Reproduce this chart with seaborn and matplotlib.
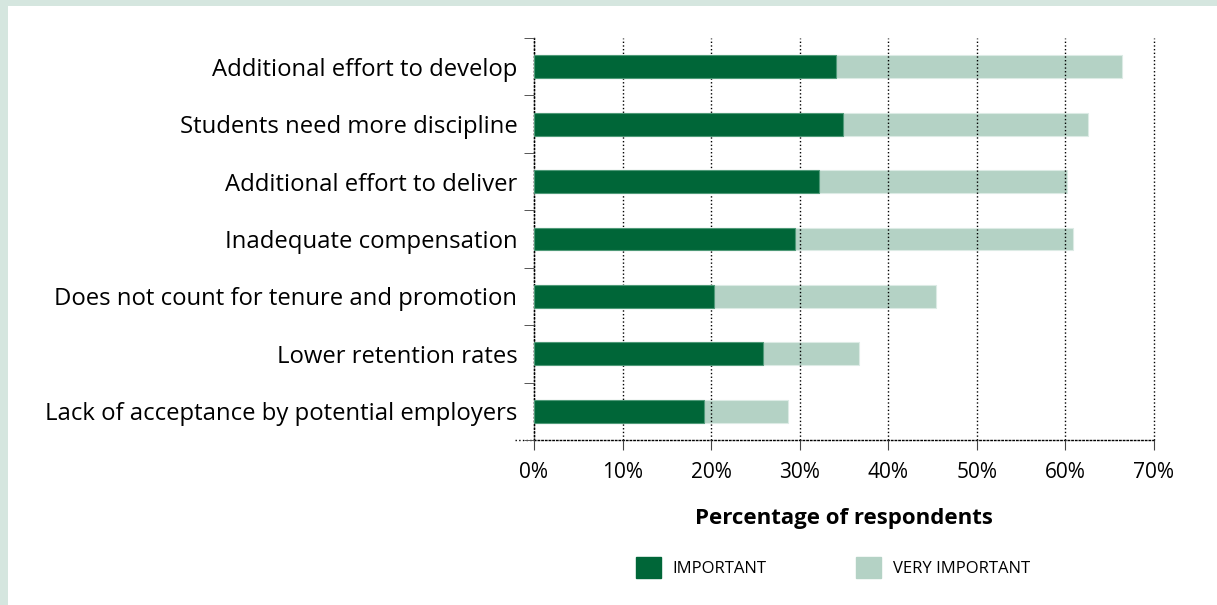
import matplotlib
matplotlib.use('Agg')
import matplotlib.pyplot as plt
import matplotlib.patches as mpatches
import seaborn as sns
import pandas as pd

categories = ['Additional effort to develop', 'Students need more discipline',
              'Additional effort to deliver', 'Inadequate compensation',
              'Does not count for tenure and promotion', 'Lower retention rates',
              'Lack of acceptance by potential employers']
important = [34.1, 34.9, 32.2, 29.5, 20.3, 25.8, 19.2]
very_important = [32.3, 27.7, 28.0, 31.3, 25.1, 10.9, 9.5]
xticks = [0, 10, 20, 30, 40, 50, 60, 70]

dark = '#006638'
light = '#b4d2c5'

df = pd.DataFrame({'cat': categories, 'imp': important, 'vimp': very_important})
df['total'] = df['imp'] + df['vimp']

sns.set_style('white')
plt.rcParams['font.family'] = ['Open Sans', 'DejaVu Sans']
plt.rcParams['text.color'] = 'black'
plt.rcParams['xtick.color'] = 'black'
plt.rcParams['ytick.color'] = 'black'
plt.rcParams['axes.labelcolor'] = 'black'

fig = plt.figure(figsize=(12.17, 6.05), dpi=100)
fig.patch.set_facecolor('#d5e6df')
# white panel, leaving a thin green border on top and left
panel = mpatches.Rectangle((8 / 1217, 0), 1, 1 - 6 / 605, transform=fig.transFigure,
                           facecolor='white', edgecolor='none', zorder=-10)
fig.add_artist(panel)
ax = fig.add_axes([534 / 1217, 1 - 440 / 605, 620 / 1217, 402 / 605])
ax.set_facecolor('none')
ax.set_zorder(5)

sns.barplot(data=df, x='total', y='cat', color=light, width=0.4, saturation=1,
            edgecolor='#dcebe5', linewidth=0.8, ax=ax, zorder=2)
sns.barplot(data=df, x='imp', y='cat', color=dark, width=0.4, saturation=1,
            edgecolor='#4f9a78', linewidth=0.8, ax=ax, zorder=3)

ax.set_xlim(0, 70)
ax.set_ylim(6.5, -0.5)
ax.set_xticks(xticks)
ax.set_xticklabels([f'{v}%' for v in xticks], fontsize=15)
ax.tick_params(axis='x', bottom=True, length=7, width=0.8, color='#444444', pad=9,
               direction='out')
ax.tick_params(axis='y', which='major', left=False, length=0, pad=12, labelsize=17.2)
ax.set_yticks([i - 0.5 for i in range(len(categories) + 1)], minor=True)
ax.tick_params(axis='y', which='minor', left=True, length=7, width=0.7, color='#555555',
               direction='out')
# bottom tick reaches further left, like the baseline in the original
ax.plot([-2.1, 0], [6.5, 6.5], linestyle=':', color='black', linewidth=1, clip_on=False)
ax.xaxis.grid(True, linestyle=':', color='black', linewidth=1)
ax.set_axisbelow(False)
for line in ax.get_xgridlines():
    line.set_zorder(4)
    line.set_clip_on(False)

for s in ['top', 'right']:
    ax.spines[s].set_visible(False)
for s in ['left', 'bottom']:
    ax.spines[s].set_linestyle(':')
    ax.spines[s].set_color('black')
    ax.spines[s].set_linewidth(1)

ax.set_ylabel('')
ax.set_xlabel('Percentage of respondents', fontsize=16, fontweight='bold', labelpad=18)

handles = [mpatches.Patch(color=dark, label='IMPORTANT'),
           mpatches.Patch(color=light, label='VERY IMPORTANT')]
fig.legend(handles=handles, loc='center left', bbox_to_anchor=(0.510, 0.062), ncol=2,
           frameon=False, handlelength=1.5, handleheight=1.55, handletextpad=0.7,
           columnspacing=5.4, prop={'size': 12})

plt.savefig('out.png', dpi=100)
